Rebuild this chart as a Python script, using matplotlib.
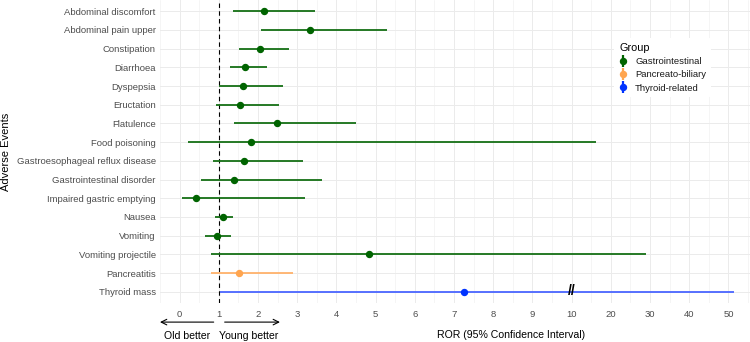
import numpy as np
import matplotlib
matplotlib.use("Agg")
import matplotlib.pyplot as plt
from matplotlib.lines import Line2D
from matplotlib.legend_handler import HandlerTuple
import matplotlib.transforms as mtransforms

plt.rcParams['font.family'] = ['Liberation Sans', 'DejaVu Sans']

events = ["Abdominal discomfort", "Abdominal pain upper", "Constipation", "Diarrhoea",
          "Dyspepsia", "Eructation", "Flatulence", "Food poisoning",
          "Gastroesophageal reflux disease", "Gastrointestinal disorder",
          "Impaired gastric emptying", "Nausea", "Vomiting", "Vomiting projectile",
          "Pancreatitis", "Thyroid mass"]
ror = [2.16, 3.32, 2.05, 1.68, 1.63, 1.54, 2.49, 1.81, 1.64, 1.40, 0.42, 1.11, 0.95, 4.82, 1.51, 7.25]
lower = [1.36, 2.08, 1.52, 1.28, 1.00, 0.94, 1.40, 0.21, 0.85, 0.54, 0.07, 0.91, 0.66, 0.81, 0.79, 1.02]
upper = [3.45, 5.30, 2.79, 2.23, 2.64, 2.53, 4.49, 16.1, 3.16, 3.63, 3.19, 1.37, 1.32, 29.0, 2.89, 51.4]
groups = ["Gastrointestinal"] * 14 + ["Pancreato-biliary", "Thyroid-related"]
group_names = ["Gastrointestinal", "Pancreato-biliary", "Thyroid-related"]
point_colors = {"Gastrointestinal": "#006400", "Pancreato-biliary": "#FFA54F", "Thyroid-related": "#0033FF"}
line_colors = {"Gastrointestinal": "#157015", "Pancreato-biliary": "#FFB26B", "Thyroid-related": "#4A66FF"}
xticks = [0, 1, 2, 3, 4, 5, 6, 7, 8, 9, 10, 20, 30, 40, 50]


def fwd(x):
    x = np.asarray(x, dtype=float)
    return np.where(x <= 10, x, 10 + (x - 10) / 10.0)


def inv(t):
    t = np.asarray(t, dtype=float)
    return np.where(t <= 10, t, 10 + (t - 10) * 10.0)


fig = plt.figure(figsize=(7.5, 3.42), dpi=100)
ax = fig.add_axes([0.2133, 0.114, 0.7867, 0.886])
ax.set_xscale('function', functions=(fwd, inv))

n = len(events)
ypos = np.arange(n)
for i in range(n):
    g = groups[i]
    ax.plot([lower[i], upper[i]], [ypos[i], ypos[i]], color=line_colors[g], lw=1.3,
            solid_capstyle='butt', zorder=3)
    ax.plot([ror[i]], [ypos[i]], 'o', color=point_colors[g], ms=4.3, zorder=4)

ax.axvline(1, color='black', lw=0.8, ls=(0, (4, 3)), zorder=2)
ax.text(10, ypos[-1] - 0.05, "//", ha='center', va='center', fontsize=10, fontweight='bold',
        color='black', zorder=5)

ax.set_yticks(ypos)
ax.set_yticklabels(events)
ax.set_ylim(n - 0.4, -0.6)
ax.set_xlim(-0.5, 55.5)
ax.set_xticks(xticks)
ax.set_xticklabels([str(v) for v in xticks])
minor = [v + 0.5 for v in range(-1, 10)] + [15, 25, 35, 45, 55]
ax.set_xticks(minor, minor=True)
ax.tick_params(axis='both', which='both', length=0, labelsize=6.8, labelcolor='#4D4D4D')
ax.tick_params(axis='x', pad=5)
ax.tick_params(axis='y', pad=3)
ax.grid(True, which='major', color='#EBEBEB', lw=0.7, zorder=0)
ax.grid(True, which='minor', axis='x', color='#F2F2F2', lw=0.5, zorder=0)
ax.set_axisbelow(True)
for s in ax.spines.values():
    s.set_visible(False)

ax.set_ylabel("Adverse Events", fontsize=8, color='black', labelpad=4)

trans = mtransforms.blended_transform_factory(ax.transData, ax.transAxes)
ax.annotate("", xy=(-0.5, -0.063), xytext=(0.87, -0.063), xycoords=trans, textcoords=trans,
            arrowprops=dict(arrowstyle='->', color='black', lw=0.8, shrinkA=0, shrinkB=0),
            annotation_clip=False)
ax.annotate("", xy=(2.56, -0.063), xytext=(1.15, -0.063), xycoords=trans, textcoords=trans,
            arrowprops=dict(arrowstyle='->', color='black', lw=0.8, shrinkA=0, shrinkB=0),
            annotation_clip=False)
ax.text(0.18, -0.11, "Old better", transform=trans, ha='center', va='center', fontsize=7.6, clip_on=False)
ax.text(1.77, -0.11, "Young better", transform=trans, ha='center', va='center', fontsize=7.6, clip_on=False)
fig.text(437 / 750, 1 - 335 / 342, "ROR (95% Confidence Interval)", ha='left', va='center', fontsize=7.6)

handles = []
for g in group_names:
    vline = Line2D([], [], color=point_colors[g], marker='|', ms=9, mew=1.6, ls='None')
    dot = Line2D([], [], color=point_colors[g], marker='o', ms=4.3, ls='None')
    handles.append((vline, dot))
leg = ax.legend(handles, group_names, handler_map={tuple: HandlerTuple(ndivide=1)},
                loc='upper left', bbox_to_anchor=(0.762, 0.89), frameon=True, fontsize=6.8,
                title="Group", title_fontsize=7.8, handlelength=0.8, handletextpad=0.9,
                labelspacing=0.45, borderpad=0.5)
leg._legend_box.align = 'left'
leg.get_frame().set_facecolor('white')
leg.get_frame().set_edgecolor('none')
leg.get_frame().set_alpha(1)
for t in leg.get_texts():
    t.set_color('#1A1A1A')

fig.savefig("out.png", dpi=100)
